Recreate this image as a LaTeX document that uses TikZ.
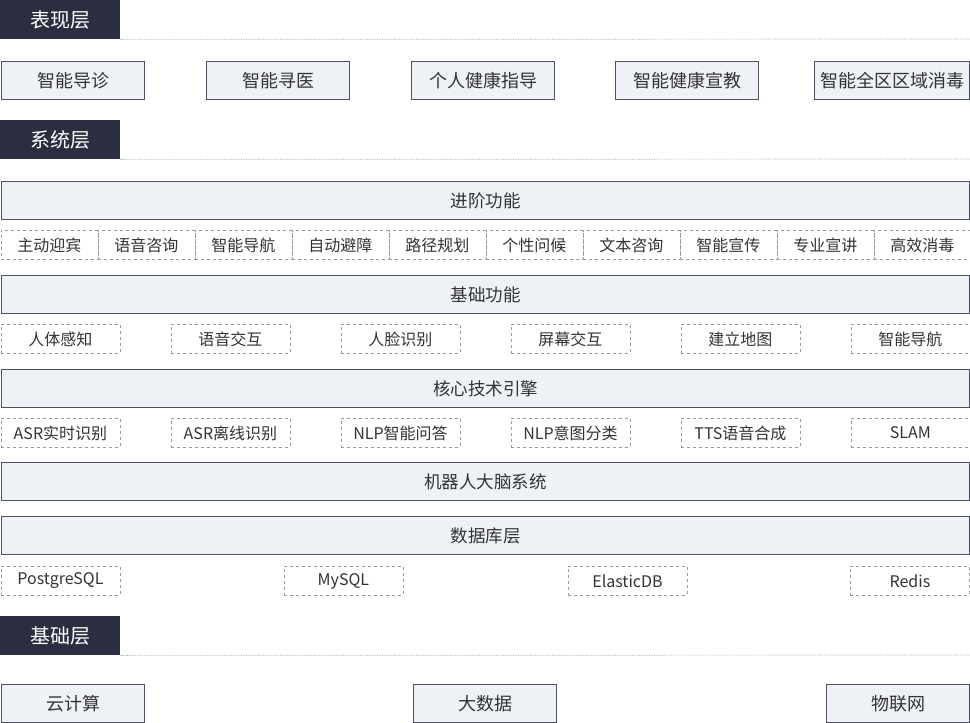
\documentclass[tikz,border=0pt]{standalone}
\usepackage{fontspec}
\setmainfont{Noto Sans CJK SC}
\usetikzlibrary{positioning}
\definecolor{hdr}{HTML}{2B2E40}
\definecolor{boxfill}{HTML}{EEF1F5}
\definecolor{boxline}{HTML}{4D5060}
\definecolor{txt}{HTML}{333333}
\definecolor{dashline}{HTML}{9A9A9A}
\tikzset{
  hdrbox/.style={fill=hdr, draw=none, text=white, anchor=north west, minimum width=120pt, minimum height=39pt, inner sep=0pt, font=\fontsize{20}{20}\selectfont},
  sepline/.style={draw=dashline, densely dotted, line width=0.7pt},
  solidbox/.style={fill=boxfill, draw=boxline, line width=1.3pt, anchor=north west, inner sep=0pt, text=txt, font=\fontsize{18}{18}\selectfont},
  bar/.style={solidbox, minimum width=968pt, minimum height=38pt, font=\fontsize{17.5}{17.5}\selectfont},
  dbox/.style={draw=dashline, dashed, line width=0.9pt, anchor=north west, inner sep=0pt, text=txt, minimum height=29pt, font=\fontsize{16}{16}\selectfont},
}
\begin{document}
\begin{tikzpicture}[x=1pt, y=-1pt]
\useasboundingbox (0,0) rectangle (970,723);
% Presentation layer
\node[hdrbox] (h1) at (0,0) {表现层};
\coordinate (h1e) at (970,39);
\draw[sepline] (h1.south east) -- (h1e);
\foreach \x/\w/\t [count=\i] in {1/143/智能导诊, 206/143/智能寻医, 411/143/个人健康指导, 615/143/智能健康宣教, 814/155/智能全区区域消毒}{
  \node[solidbox, minimum width=\w pt, minimum height=38pt] (p\i) at (\x,61) {\t};
}
% System layer
\node[hdrbox] (h2) at (0,120) {系统层};
\coordinate (h2e) at (970,159);
\draw[sepline] (h2.south east) -- (h2e);
\node[bar] (adv) at (1,181) {进阶功能};
\foreach \t [count=\i] in {主动迎宾,语音咨询,智能导航,自动避障,路径规划,个性问候,文本咨询,智能宣传,专业宣讲,高效消毒}{
  \node[dbox, minimum width=97pt] (a\i) at ({(\i-1)*97+0.5},230) {\t};
}
\node[bar] (basic) at (1,275) {基础功能};
\foreach \t [count=\i] in {人体感知,语音交互,人脸识别,屏幕交互,建立地图,智能导航}{
  \node[dbox, minimum width=119pt] (b\i) at ({(\i-1)*170+0.5},324) {\t};
}
\node[bar] (core) at (1,369) {核心技术引擎};
\foreach \t [count=\i] in {ASR实时识别,ASR离线识别,NLP智能问答,NLP意图分类,TTS语音合成,SLAM}{
  \node[dbox, minimum width=119pt] (c\i) at ({(\i-1)*170+0.5},418) {\t};
}
\node[bar] (brain) at (1,462) {机器人大脑系统};
\node[bar] (db) at (1,516) {数据库层};
\foreach \x/\t [count=\i] in {0.5/PostgreSQL, 283.5/MySQL, 567.5/ElasticDB, 850/Redis}{
  \node[dbox, minimum width=119pt] (d\i) at (\x,566) {\t};
}
% Base layer
\node[hdrbox] (h3) at (0,616) {基础层};
\coordinate (h3e) at (970,655);
\draw[sepline] (h3.south east) -- (h3e);
\foreach \x/\t [count=\i] in {1/云计算, 413/大数据, 826/物联网}{
  \node[solidbox, minimum width=143pt, minimum height=38pt] (f\i) at (\x,684) {\t};
}
\end{tikzpicture}
\end{document}
